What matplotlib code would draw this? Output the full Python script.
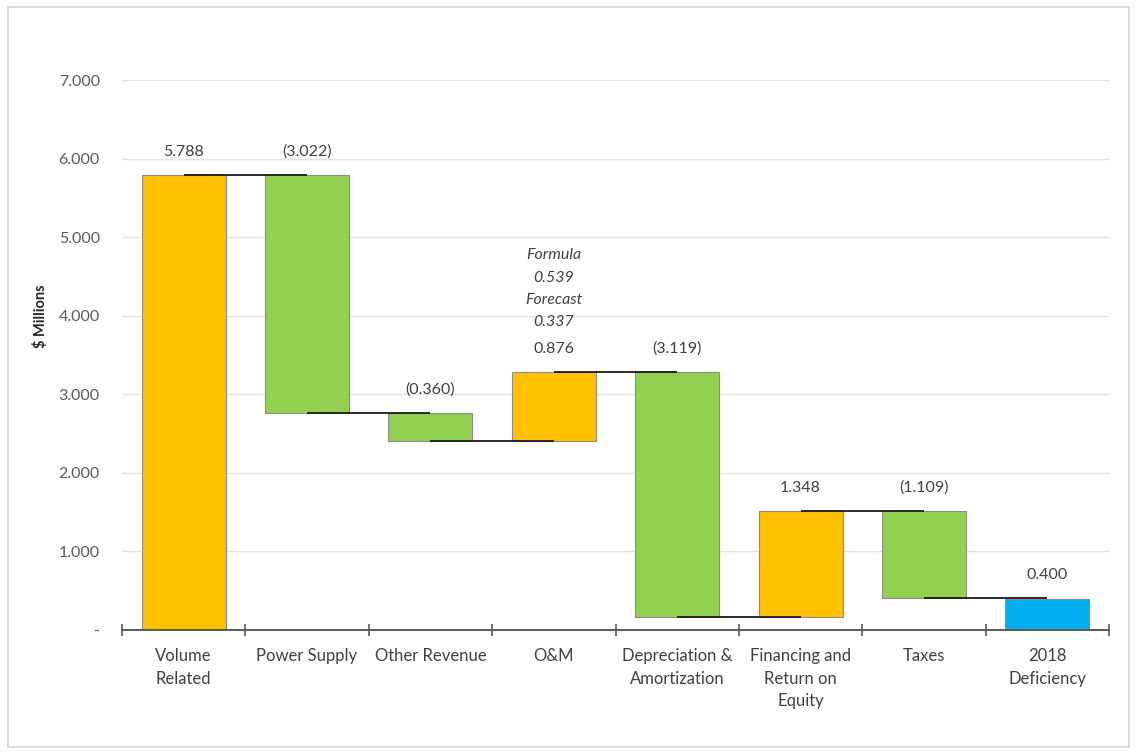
import matplotlib
matplotlib.use("Agg")
import matplotlib.pyplot as plt
from matplotlib.patches import Rectangle
import numpy as np

plt.rcParams['font.family'] = ['Lato', 'DejaVu Sans']

# Revenue requirement walk (in $ millions)
categories = ["Volume\nRelated", "Power Supply", "Other Revenue", "O&M",
              "Depreciation &\nAmortization", "Financing and\nReturn on\nEquity",
              "Taxes", "2018\nDeficiency"]
changes = [5.788, -3.022, -0.360, 0.876, -3.119, 1.348, -1.109]
deficiency = 0.400
value_labels = ["5.788", "(3.022)", "(0.360)", "0.876", "(3.119)", "1.348",
                "(1.109)", "0.400"]
om_note = ["Formula", "0.539", "Forecast", "0.337"]
y_ticks = [0, 1, 2, 3, 4, 5, 6, 7]
y_tick_labels = ["-", "1.000", "2.000", "3.000", "4.000", "5.000", "6.000", "7.000"]

ORANGE = "#FFC000"
GREEN = "#92D050"
BLUE = "#00B0F0"
TEXT = "#404040"

fig = plt.figure(figsize=(11.37, 7.55), dpi=100)
fig.patches.append(Rectangle((8 / 1137, 8 / 755), 1121 / 1137, 740 / 755,
                             transform=fig.transFigure, fill=False,
                             edgecolor="#d4d4d4", linewidth=1.2))
ax = fig.add_axes([122 / 1137, 125 / 755, 987 / 1137, 550 / 755])

# running totals for the floating bars
ends = np.cumsum(changes)
starts = np.concatenate([[0.0], ends[:-1]])
bottoms = list(np.minimum(starts, ends)) + [0.0]
heights = list(np.abs(changes)) + [deficiency]
tops = list(np.maximum(starts, ends)) + [deficiency]
colors = [ORANGE if c > 0 else GREEN for c in changes] + [BLUE]
x = np.arange(len(categories))

ax.bar(x, heights, bottom=bottoms, width=0.68, color=colors,
       edgecolor="#8c8c8c", linewidth=0.8, zorder=2)

# connectors between consecutive bars, centre to centre
levels = list(ends)
for i in range(len(categories) - 1):
    ax.plot([x[i], x[i + 1]], [levels[i], levels[i]], color="#1a1a1a",
            linewidth=1.3, zorder=3, solid_capstyle="butt")

for xi, top, lab in zip(x, tops, value_labels):
    ax.annotate(lab, (xi, top), xytext=(0, 17), textcoords="offset points",
                ha="center", va="center", fontsize=11.5, color=TEXT)

om_idx = categories.index("O&M")
for k, line in enumerate(reversed(om_note)):
    ax.annotate(line, (x[om_idx], tops[om_idx]), xytext=(0, 36 + 16 * k),
                textcoords="offset points", ha="center", va="center",
                fontsize=11.5, color=TEXT, style="italic")

ax.set_xlim(-0.5, len(categories) - 0.5)
ax.set_ylim(0, 7)
ax.set_yticks(y_ticks)
ax.set_yticklabels(y_tick_labels)
ax.yaxis.grid(True, color="#e3e3e3", linewidth=1)
ax.set_axisbelow(True)
ax.tick_params(axis="y", length=0, pad=16, labelsize=11.5, labelcolor="#595959")

ax.set_xticks(np.arange(-0.5, len(categories), 1.0))
ax.set_xticklabels([])
ax.set_xticks(x, minor=True)
ax.set_xticklabels(categories, minor=True, fontsize=12, color=TEXT,
                   linespacing=1.5, va="top")
ax.tick_params(axis="x", which="major", direction="inout", length=9,
               width=1.2, color="#595959")
ax.tick_params(axis="x", which="minor", length=0, pad=13)

for side in ["left", "right", "top"]:
    ax.spines[side].set_visible(False)
ax.spines["bottom"].set_color("#595959")
ax.spines["bottom"].set_linewidth(1.4)

ax.set_ylabel("$ Millions", fontsize=10.5, fontweight="bold", color="#262626",
              labelpad=16)
ax.yaxis.set_label_coords(-0.075, 4 / 7)

fig.savefig("out.png", dpi=100)
